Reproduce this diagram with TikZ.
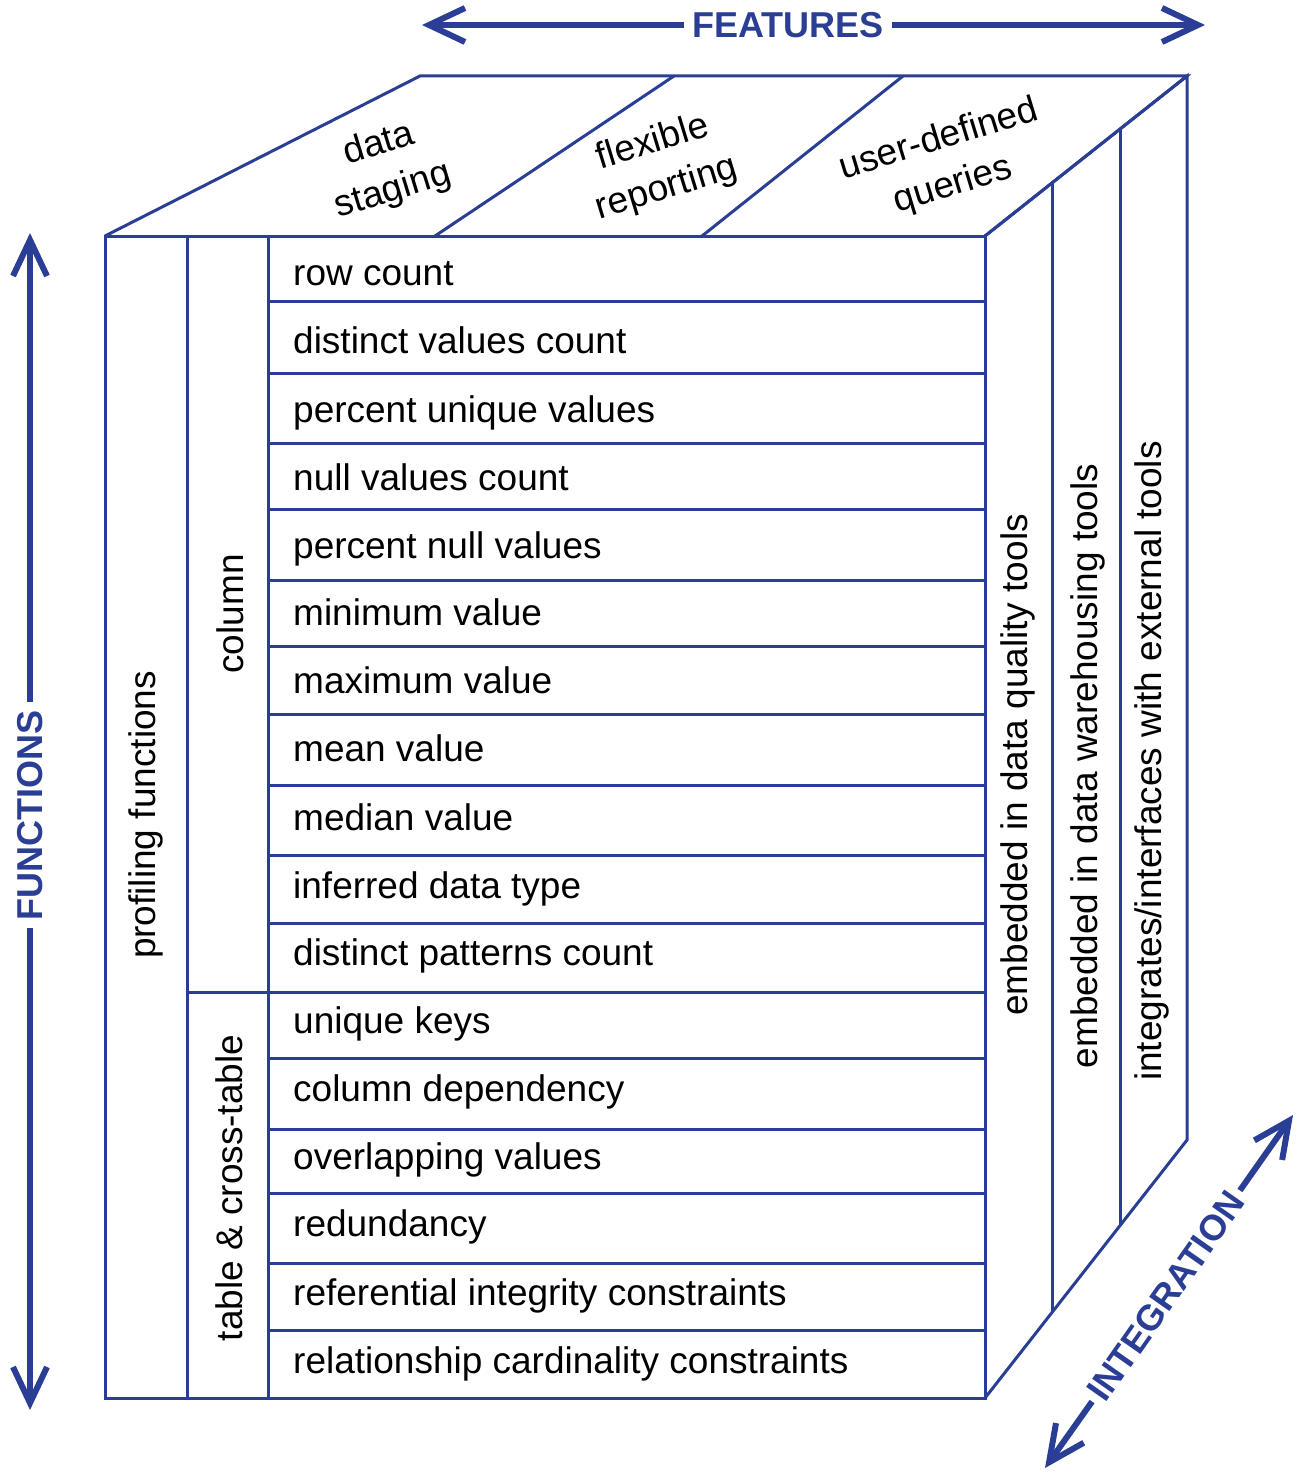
\documentclass[tikz,border=0pt]{standalone}
\usepackage{fontspec}
\setmainfont{Liberation Sans}
\usetikzlibrary{arrows.meta}
\definecolor{cubeblue}{RGB}{43,62,150}

\begin{document}
\begin{tikzpicture}[x=1pt,y=-1pt,
  edge/.style={draw=cubeblue, line width=3pt, line join=miter},
  txt/.style={font=\fontsize{37}{48}\selectfont, text=black, inner sep=0pt},
  axistxt/.style={font=\fontsize{36}{44}\selectfont\bfseries, text=cubeblue, inner sep=8pt},
  axisarrow/.style={draw=cubeblue, line width=6pt,
    -{Straight Barb[length=36pt, width=34pt]}},
]
\useasboundingbox (0,0) rectangle (1296,1477);

% corners of the box
\coordinate (ftl) at (105,236);
\coordinate (ftr) at (985,236);
\coordinate (fbl) at (105,1398);
\coordinate (fbr) at (985,1398);
\coordinate (btl) at (420,76);
\coordinate (btr) at (1187,76);
\coordinate (bbr) at (1187,1140);

% top face
\draw[edge] (ftl) -- (btl) -- (btr) -- (ftr);
\draw[edge] (435,236) -- (674,76);
\draw[edge] (702,236) -- (903,76);

% right face
\draw[edge] (ftr) -- (btr) -- (bbr) -- (fbr);
\draw[edge] (1052,183) -- (1052,1312);
\draw[edge] (1120,129) -- (1120,1226);

% front face
\draw[edge] (ftl) rectangle (fbr);
\draw[edge] (187,236) -- (187,1400);
\draw[edge] (268,236) -- (268,1400);
\draw[edge] (187,992) -- (268,992);
\foreach \yy in {301,373,443,509,580,646,714,785,855,923,992,1058,1129,1193,1263,1330}
  \draw[edge] (268,\yy) -- (985,\yy);

% row labels
\foreach \t/\b [count=\i] in {
  row count/285,
  distinct values count/353,
  percent unique values/422,
  null values count/490,
  percent null values/558,
  minimum value/625,
  maximum value/693,
  mean value/761,
  median value/830,
  inferred data type/898,
  distinct patterns count/965,
  unique keys/1033,
  column dependency/1101,
  overlapping values/1169,
  redundancy/1236,
  referential integrity constraints/1305,
  relationship cardinality constraints/1373}
  \node[txt, anchor=base west] (row\i) at (293,\b) {\t};

% grouping labels on the front face
\node[txt, rotate=90] (profiling) at (146,815) {profiling functions};
\node[txt, rotate=90] (column) at (230,614) {column};
\node[txt, rotate=90] (tablecross) at (229,1188) {table \& cross-table};

% feature labels on the top face
\node[txt, rotate=17, align=center] (staging) at (386,168) {data\\staging};
\node[txt, rotate=17, align=center] (reporting) at (660,166) {flexible\\reporting};
\node[txt, rotate=17, align=center] (queries) at (946,163) {user-defined\\queries};

% integration labels on the right face
\node[txt, rotate=90] (dqtools) at (1018,765) {embedded in data quality tools};
\node[txt, rotate=90] (dwtools) at (1088,766) {embedded in data warehousing tools};
\node[txt, rotate=90] (exttools) at (1152,761) {integrates/interfaces with external tools};

% axis arrows
\node[axistxt] (features) at (788,25) {FEATURES};
\coordinate (featL) at (422,25);
\coordinate (featR) at (1205,25);
\draw[axisarrow] (features) -- (featL);
\draw[axisarrow] (features) -- (featR);

\node[axistxt, rotate=90] (functions) at (30,815) {FUNCTIONS};
\coordinate (funcT) at (30,233);
\coordinate (funcB) at (30,1410);
\draw[axisarrow] (functions) -- (funcT);
\draw[axisarrow] (functions) -- (funcB);

\node[axistxt, rotate=55, inner sep=6pt] (integration) at (1166,1296) {INTEGRATION};
\coordinate (integL) at (1045,1468);
\coordinate (integR) at (1293,1115);
\draw[axisarrow] (integration.west) -- (integL);
\draw[axisarrow] (integration.east) -- (integR);
\end{tikzpicture}
\end{document}
